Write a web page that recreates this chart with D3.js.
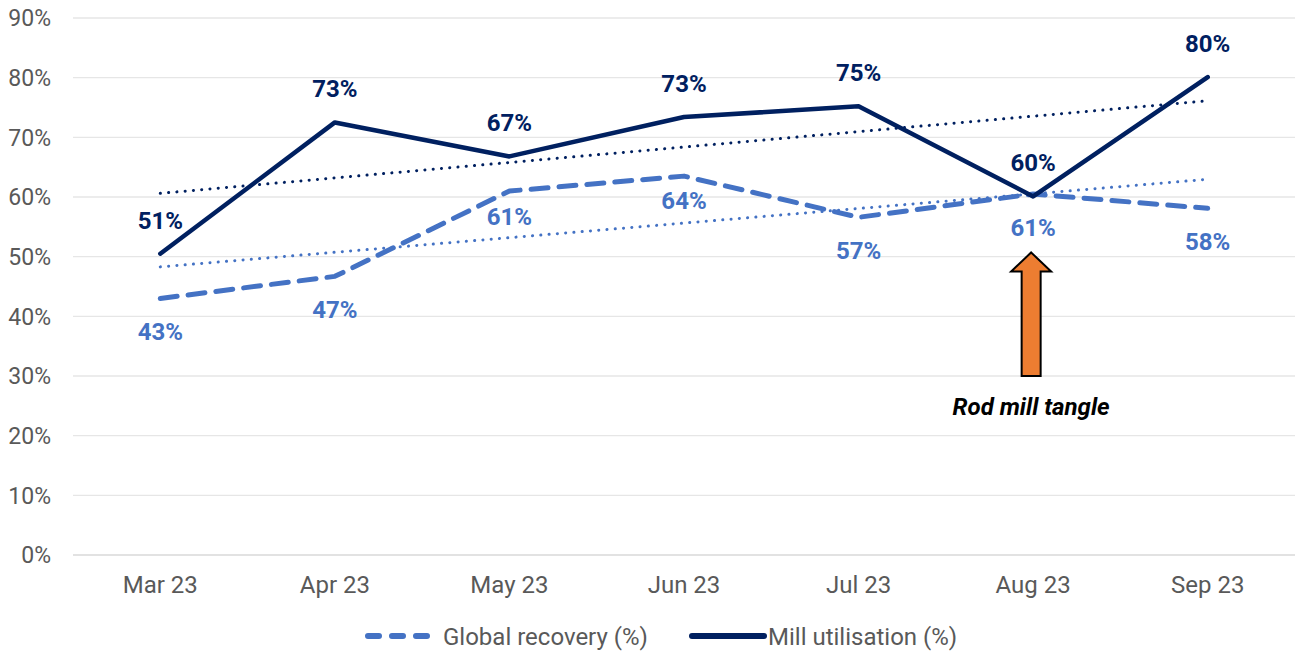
<!DOCTYPE html>
<html>
<head>
<meta charset="utf-8">
<script src="https://cdn.jsdelivr.net/npm/d3@7"></script>
<style>
  body { margin: 0; background: #fff; }
  svg { font-family: Roboto, "Noto Sans", sans-serif; }
</style>
</head>
<body>
<svg id="chart" width="1297" height="655"></svg>
<script>
const months = ['Mar 23', 'Apr 23', 'May 23', 'Jun 23', 'Jul 23', 'Aug 23', 'Sep 23'];
const millUtilisation = [50.5, 72.5, 66.8, 73.4, 75.2, 60.1, 80.1];
const globalRecovery = [43.0, 46.7, 61.0, 63.5, 56.6, 60.5, 58.1];
const yTicks = [0, 10, 20, 30, 40, 50, 60, 70, 80, 90];
const annotation = { month: 'Aug 23', from: 30, to: 50.7, text: 'Rod mill tangle' };

const navy = '#002060';
const blue = '#4472C4';
const grey = '#595959';

const svg = d3.select('#chart');
const margin = { top: 18, right: 2, bottom: 100, left: 73 };
const width = 1297 - margin.left - margin.right;
const height = 655 - margin.top - margin.bottom;

const x = d3.scaleBand().domain(months).range([0, width]);
const y = d3.scaleLinear().domain([0, 90]).range([height, 0]);
const cx = d => x(d) + x.bandwidth() / 2;

const g = svg.append('g')
  .attr('transform', 'translate(' + margin.left + ',' + margin.top + ')');

// grid
g.append('g')
  .selectAll('line')
  .data(yTicks)
  .enter().append('line')
  .attr('x1', 0).attr('x2', width)
  .attr('y1', d => y(d)).attr('y2', d => y(d))
  .attr('stroke', d => d === 0 ? '#d9d9d9' : '#e6e6e6')
  .attr('stroke-width', 1.3);

// y axis labels
g.append('g')
  .selectAll('text')
  .data(yTicks)
  .enter().append('text')
  .attr('x', -22)
  .attr('y', d => y(d))
  .attr('dy', '0.36em')
  .attr('text-anchor', 'end')
  .attr('fill', grey)
  .style('font-size', '23px')
  .text(d => d + '%');

// x axis labels
g.append('g')
  .selectAll('text')
  .data(months)
  .enter().append('text')
  .attr('x', d => cx(d))
  .attr('y', height + 38)
  .attr('text-anchor', 'middle')
  .attr('fill', grey)
  .style('font-size', '24px')
  .text(d => d);

// linear trend
function trend(vals) {
  const n = vals.length;
  const mx = (n - 1) / 2;
  const my = d3.mean(vals);
  let num = 0, den = 0;
  vals.forEach((v, i) => { num += (i - mx) * (v - my); den += (i - mx) * (i - mx); });
  const b = num / den;
  return vals.map((v, i) => my + b * (i - mx));
}

const line = d3.line()
  .x((d, i) => cx(months[i]))
  .y(d => y(d));

g.append('path')
  .attr('d', line(trend(globalRecovery)))
  .attr('fill', 'none')
  .attr('stroke', blue)
  .attr('stroke-width', 3)
  .attr('stroke-linecap', 'round')
  .attr('stroke-dasharray', '0.1 8.2');

g.append('path')
  .attr('d', line(trend(millUtilisation)))
  .attr('fill', 'none')
  .attr('stroke', navy)
  .attr('stroke-width', 3)
  .attr('stroke-linecap', 'round')
  .attr('stroke-dasharray', '0.1 8.2');

g.append('path')
  .attr('d', line(globalRecovery))
  .attr('fill', 'none')
  .attr('stroke', blue)
  .attr('stroke-width', 5)
  .attr('stroke-linecap', 'round')
  .attr('stroke-linejoin', 'round')
  .attr('stroke-dasharray', '17 11');

g.append('path')
  .attr('d', line(millUtilisation))
  .attr('fill', 'none')
  .attr('stroke', navy)
  .attr('stroke-width', 4.5)
  .attr('stroke-linecap', 'round')
  .attr('stroke-linejoin', 'round');

// data labels
g.append('g')
  .selectAll('text')
  .data(millUtilisation)
  .enter().append('text')
  .attr('x', (d, i) => cx(months[i]))
  .attr('y', d => y(d) - 25)
  .attr('text-anchor', 'middle')
  .attr('fill', navy)
  .style('font-size', '24px')
  .style('font-weight', 'bold')
  .text(d => Math.round(d) + '%');

// May/Jun labels sit a bit closer to the line in the original
const nudged = { 'May 23': -8, 'Jun 23': -9 };
g.append('g')
  .selectAll('text')
  .data(globalRecovery)
  .enter().append('text')
  .attr('x', (d, i) => cx(months[i]))
  .attr('y', (d, i) => y(d) + 42 + (nudged[months[i]] || 0))
  .attr('text-anchor', 'middle')
  .attr('fill', blue)
  .style('font-size', '24px')
  .style('font-weight', 'bold')
  .text(d => Math.round(d) + '%');

// annotation arrow
const ax = cx(annotation.month) - 2;
const yTip = y(annotation.to);
const yBase = y(annotation.from);
const headH = 19, headW = 20, shaftW = 9.5;
const arrow = [
  [ax, yTip],
  [ax + headW, yTip + headH],
  [ax + shaftW, yTip + headH],
  [ax + shaftW, yBase],
  [ax - shaftW, yBase],
  [ax - shaftW, yTip + headH],
  [ax - headW, yTip + headH]
];
g.append('path')
  .attr('d', d3.line()(arrow) + 'Z')
  .attr('fill', '#ED7D31')
  .attr('stroke', '#000')
  .attr('stroke-width', 2)
  .attr('stroke-linejoin', 'miter');

g.append('text')
  .attr('x', ax)
  .attr('y', yBase + 39)
  .attr('text-anchor', 'middle')
  .attr('fill', '#000')
  .style('font-size', '24px')
  .style('font-weight', 'bold')
  .style('font-style', 'italic')
  .text(annotation.text);

// legend
const legend = svg.append('g').attr('transform', 'translate(0,636)');
legend.append('line')
  .attr('x1', 368).attr('x2', 428).attr('y1', 0).attr('y2', 0)
  .attr('stroke', blue).attr('stroke-width', 6)
  .attr('stroke-linecap', 'round')
  .attr('stroke-dasharray', '11 13');
legend.append('text')
  .attr('x', 443).attr('y', 0).attr('dy', '0.36em')
  .attr('fill', grey).style('font-size', '24px')
  .text('Global recovery (%)');
legend.append('line')
  .attr('x1', 692).attr('x2', 764).attr('y1', 0).attr('y2', 0)
  .attr('stroke', navy).attr('stroke-width', 6)
  .attr('stroke-linecap', 'round');
legend.append('text')
  .attr('x', 768).attr('y', 0).attr('dy', '0.36em')
  .attr('fill', grey).style('font-size', '24px')
  .text('Mill utilisation (%)');
</script>
</body>
</html>
